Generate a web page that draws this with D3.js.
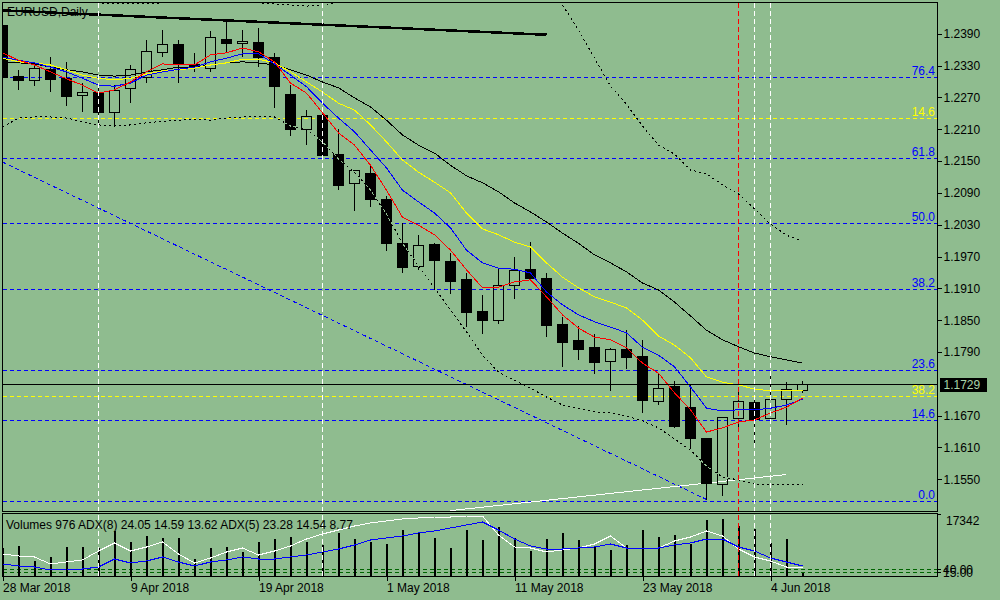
<!DOCTYPE html>
<html>
<head>
<meta charset="utf-8">
<script src="https://cdn.jsdelivr.net/npm/d3@7"></script>
<style>
html, body { margin: 0; padding: 0; background: #8fbc8f; }
svg { display: block; font-family: "Liberation Sans", Arial, sans-serif; font-size: 12px; }
</style>
</head>
<body>
<svg width="1000" height="600" shape-rendering="crispEdges"></svg>
<script>
/* EURUSD daily bars, 28 Mar - 6 Jun 2018 */
let dates = ['2018-03-28','2018-03-29','2018-03-30','2018-04-02','2018-04-03','2018-04-04','2018-04-05','2018-04-06',
  '2018-04-09','2018-04-10','2018-04-11','2018-04-12','2018-04-13','2018-04-16','2018-04-17','2018-04-18',
  '2018-04-19','2018-04-20','2018-04-23','2018-04-24','2018-04-25','2018-04-26','2018-04-27','2018-04-30',
  '2018-05-01','2018-05-02','2018-05-03','2018-05-04','2018-05-07','2018-05-08','2018-05-09','2018-05-10',
  '2018-05-11','2018-05-14','2018-05-15','2018-05-16','2018-05-17','2018-05-18','2018-05-21','2018-05-22',
  '2018-05-23','2018-05-24','2018-05-25','2018-05-28','2018-05-29','2018-05-30','2018-05-31','2018-06-01',
  '2018-06-04','2018-06-05','2018-06-06'];

let opens  = [1.2405,1.2310,1.2301,1.2322,1.2305,1.2273,1.2280,1.2242,1.2286,1.2308,1.2354,1.2369,1.2331,1.2325,1.2380,1.2372,
  1.2374,1.2346,1.2276,1.2210,1.2235,1.2163,1.2107,1.2126,1.2078,1.1995,1.1952,1.1992,1.1960,1.1926,1.1867,1.1850,
  1.1916,1.1946,1.1928,1.1841,1.1811,1.1798,1.1773,1.1794,1.1782,1.1696,1.1724,1.1686,1.1626,1.1541,1.1664,1.1694,
  1.1664,1.1700,1.1718];
let highs  = [1.2412,1.2322,1.2335,1.2346,1.2337,1.2297,1.2290,1.2293,1.2331,1.2378,1.2397,1.2378,1.2354,1.2395,1.2414,1.2397,
  1.2401,1.2354,1.2293,1.2246,1.2241,1.2210,1.2134,1.2141,1.2084,1.2033,1.2011,1.1995,1.1977,1.1939,1.1897,1.1948,
  1.1969,1.1997,1.1939,1.1856,1.1839,1.1824,1.1798,1.1832,1.1813,1.1750,1.1735,1.1730,1.1627,1.1667,1.1724,1.1709,
  1.1747,1.1733,1.1735];
let lows   = [1.2303,1.2284,1.2291,1.2280,1.2254,1.2242,1.2222,1.2214,1.2259,1.2297,1.2346,1.2297,1.2318,1.2318,1.2356,1.2346,
  1.2327,1.2250,1.2197,1.2180,1.2152,1.2095,1.2056,1.2063,1.1980,1.1939,1.1944,1.1907,1.1899,1.1837,1.1824,1.1843,
  1.1890,1.1924,1.1818,1.1762,1.1775,1.1749,1.1717,1.1758,1.1675,1.1690,1.1647,1.1607,1.1511,1.1518,1.1639,1.1619,
  1.1656,1.1652,1.1713];
let closes = [1.2308,1.2301,1.2325,1.2303,1.2271,1.2280,1.2241,1.2282,1.2323,1.2357,1.2369,1.2331,1.2329,1.2382,1.2371,1.2376,
  1.2346,1.2290,1.2210,1.2233,1.2161,1.2103,1.2133,1.2078,1.1994,1.1950,1.1990,1.1962,1.1922,1.1864,1.1850,1.1916,
  1.1943,1.1928,1.1839,1.1807,1.1794,1.1771,1.1794,1.1779,1.1698,1.1722,1.1649,1.1626,1.1543,1.1666,1.1696,1.1662,
  1.1700,1.1720,1.1729];

/* moving averages and envelope */
let maRed    = [1.2354,1.2340,1.2331,1.2318,1.2305,1.2293,1.2278,1.2284,1.2299,1.2318,1.2333,1.2331,1.2331,1.2350,1.2354,1.2363,
  1.2356,1.2337,1.2297,1.2278,1.2241,1.2203,1.2180,1.2142,1.2095,1.2044,1.2029,1.2011,1.1982,1.1945,1.1911,1.1912,
  1.1922,1.1926,1.1894,1.1860,1.1835,1.1818,1.1813,1.1798,1.1769,1.1750,1.1713,1.1681,1.1639,1.1647,1.1658,1.1662,
  1.1675,1.1686,1.1703];
let maBlue   = [1.2346,1.2340,1.2335,1.2327,1.2318,1.2306,1.2293,1.2291,1.2297,1.2312,1.2318,1.2323,1.2327,1.2337,1.2344,1.2352,
  1.2352,1.2333,1.2312,1.2290,1.2259,1.2231,1.2205,1.2171,1.2137,1.2095,1.2073,1.2052,1.2024,1.1982,1.1958,1.1948,
  1.1946,1.1939,1.1903,1.1879,1.1860,1.1847,1.1837,1.1826,1.1799,1.1784,1.1762,1.1724,1.1684,1.1679,1.1681,1.1681,
  1.1684,1.1690,1.1701];
let maYellow = [1.2344,1.2337,1.2335,1.2331,1.2322,1.2312,1.2306,1.2303,1.2306,1.2314,1.2320,1.2322,1.2325,1.2331,1.2335,1.2342,
  1.2342,1.2335,1.2318,1.2299,1.2280,1.2259,1.2246,1.2218,1.2186,1.2152,1.2129,1.2110,1.2090,1.2052,1.2022,1.2011,
  1.1997,1.1988,1.1958,1.1931,1.1911,1.1894,1.1884,1.1873,1.1850,1.1820,1.1803,1.1779,1.1743,1.1733,1.1728,1.1720,
  1.1717,1.1717,1.1718];
let maBlack  = [1.2337,1.2335,1.2333,1.2327,1.2322,1.2318,1.2312,1.2310,1.2312,1.2318,1.2322,1.2327,1.2327,1.2331,1.2335,1.2337,
  1.2335,1.2331,1.2322,1.2312,1.2299,1.2288,1.2269,1.2252,1.2227,1.2199,1.2180,1.2165,1.2142,1.2122,1.2109,1.2092,
  1.2071,1.2054,1.2035,1.2014,1.1995,1.1973,1.1958,1.1941,1.1920,1.1907,1.1884,1.1858,1.1831,1.1813,1.1800,1.1788,
  1.1781,1.1775,1.1769];
let bandUpper = [1.2469,1.2465,1.2461,1.2457,1.2454,1.2450,1.2448,1.2446,1.2446,1.2446,1.2448,1.2448,1.2450,1.2448,1.2448,1.2448,
  1.2448,1.2446,1.2444,1.2442,1.2444,1.2450,1.2461,1.2472,1.2482,1.2491,1.2501,1.2510,1.2519,1.2529,1.2538,1.2538,
  1.2533,1.2519,1.2487,1.2444,1.2397,1.2344,1.2291,1.2257,1.2216,1.2180,1.2163,1.2133,1.2126,1.2105,1.2088,1.2060,
  1.2031,1.2010,1.1999];
let bandLower = [1.2214,1.2231,1.2233,1.2233,1.2231,1.2224,1.2218,1.2216,1.2218,1.2222,1.2225,1.2227,1.2229,1.2227,1.2231,1.2233,
  1.2233,1.2233,1.2216,1.2210,1.2186,1.2154,1.2129,1.2095,1.2050,1.1995,1.1952,1.1911,1.1869,1.1828,1.1784,1.1752,
  1.1737,1.1722,1.1705,1.1690,1.1683,1.1677,1.1675,1.1669,1.1660,1.1647,1.1626,1.1605,1.1575,1.1554,1.1549,1.1541,
  1.1541,1.1541,1.1541];

/* sub window */
let volumes = [7800,8400,4200,5300,8100,8100,7800,12600,9500,11200,10600,10600,4800,7800,8100,6700,
  9500,10400,10900,9500,8700,12000,10400,9500,9000,12900,12000,10600,7800,12900,10100,13700,
  10600,7000,10400,12000,10100,8100,7300,8700,12900,10900,11500,9000,15700,16000,14000,13200,
  9200,10400,976];
let adxWhite = [22,20,19,12,14,16,25,33,25,29,34,22,13,18,24,28,21,25,30,37,42,46,50,53,55,57,58,59,59,60,60,41,
  29,28,24,26,28,32,40,28,28,28,35,39,45,40,27,19,15,9,9];
let adxBlue  = [12,10,9,6,7,7,9,17,13,15,19,14,10,14,16,19,17,17,19,21,24,27,31,36,38,40,43,45,48,51,54,46,
  37,30,27,27,28,29,32,28,28,28,31,33,37,37,29,25,18,14,10];
let adxLevels = [6.7, 4];
let subTickLabels = ['40.00', '15.00'];
let volMax = 17342;
let legend = 'Volumes 976 ADX(8) 24.05 14.59 13.62 ADX(5) 23.28 14.54 8.77';

/* price axis and objects */
let priceTicks = [1.2390,1.2330,1.2270,1.2210,1.2150,1.2090,1.2030,1.1970,1.1910,1.1850,1.1790,1.1670,1.1610,1.1550];
let lastPrice = 1.1729;
let fibLow = 1.1510, fibHigh = 1.2555;
let fibLevels = [0.0, 14.6, 23.6, 38.2, 50.0, 61.8, 76.4];
let fib2High = 1.2555, fib2Low = 1.0336;
let fib2Levels = [14.6, 38.2];
let trendBlack = [[0, 1.2434], [34, 1.2388]];
let trendBlue  = [[0, 1.2148], [44, 1.1512]];
let trendWhite = [[28, 1.1491], [49, 1.1559]];
let whiteVLines = [6, 20, 47, 48];
let redVLines = [46];

let bg = '#8fbc8f';
let svg = d3.select('svg');
let plotL = 3, plotR = 937, mainT = 3, mainB = 511, subT = 514, subB = 576;

let x = d3.scaleLinear().domain([0, dates.length - 1]).range([2.5, 2.5 + 16 * (dates.length - 1)]);
let y = d3.scaleLinear().domain([1.1550, 1.2390]).range([479.3, 33.7]);
let yVol = d3.scaleLinear().domain([0, volMax]).range([subB, subT]);
let yAdx = d3.scaleLinear().domain([0, 60]).range([subB, subT + 2]);

let defs = svg.append('defs');
defs.append('clipPath').attr('id', 'clip-main').append('rect')
  .attr('x', plotL).attr('y', mainT).attr('width', plotR - plotL).attr('height', mainB - mainT);
defs.append('clipPath').attr('id', 'clip-sub').append('rect')
  .attr('x', plotL).attr('y', subT).attr('width', plotR - plotL).attr('height', subB - subT);
defs.append('clipPath').attr('id', 'clip-all').append('rect')
  .attr('x', plotL).attr('y', mainT).attr('width', plotR - plotL).attr('height', subB - mainT);

svg.append('rect').attr('width', 1000).attr('height', 600).attr('fill', bg);

let main = svg.append('g').attr('clip-path', 'url(#clip-main)');
let sub = svg.append('g').attr('clip-path', 'url(#clip-sub)');
let all = svg.append('g').attr('clip-path', 'url(#clip-all)');

/* fibonacci levels */
function drawFib(lo, hi, levels, color, fromTop) {
  let g = main.append('g');
  levels.forEach(function(l) {
    let p = fromTop ? hi - (hi - lo) * l / 100 : lo + (hi - lo) * l / 100;
    let yy = Math.round(y(p)) + 0.5;
    g.append('line').attr('x1', plotL).attr('x2', plotR).attr('y1', yy).attr('y2', yy)
      .attr('stroke', color).attr('stroke-dasharray', '4,3');
    svg.append('text').attr('x', 935).attr('y', yy - 3).attr('text-anchor', 'end')
      .attr('fill', color).text(l.toFixed(1));
  });
}
drawFib(fibLow, fibHigh, fibLevels, '#0000ff', false);
drawFib(fib2Low, fib2High, fib2Levels, '#ffff00', true);

/* vertical lines over both windows */
function drawVLines(list, color) {
  all.append('g').selectAll('line').data(list).enter().append('line')
    .attr('x1', d => x(d)).attr('x2', d => x(d)).attr('y1', mainT).attr('y2', subB)
    .attr('stroke', color).attr('stroke-dasharray', '5,3');
}
drawVLines(whiteVLines, 'white');
drawVLines(redVLines, 'red');

/* trend lines */
function drawTrend(pts, color, width, dash) {
  let l = main.append('line')
    .attr('x1', x(pts[0][0])).attr('y1', y(pts[0][1]))
    .attr('x2', x(pts[1][0])).attr('y2', y(pts[1][1]))
    .attr('stroke', color).attr('stroke-width', width);
  if(dash)
    l.attr('stroke-dasharray', dash);
}
drawTrend(trendBlue, '#0000ff', 1, '4,3');
drawTrend(trendWhite, 'white', 1);
drawTrend(trendBlack, 'black', 2.5);

/* candles */
let bars = d3.range(dates.length).map(i => ({ i: i, o: opens[i], h: highs[i], l: lows[i], c: closes[i] }));
let cg = main.append('g');
cg.selectAll('line.up').data(bars).enter().append('line')
  .attr('x1', d => x(d.i)).attr('x2', d => x(d.i))
  .attr('y1', d => y(d.h)).attr('y2', d => y(Math.max(d.o, d.c)))
  .attr('stroke', 'black');
cg.selectAll('line.dn').data(bars).enter().append('line')
  .attr('x1', d => x(d.i)).attr('x2', d => x(d.i))
  .attr('y1', d => y(Math.min(d.o, d.c))).attr('y2', d => y(d.l))
  .attr('stroke', 'black');
cg.selectAll('rect').data(bars).enter().append('rect')
  .attr('x', d => x(d.i) - 5).attr('width', 10)
  .attr('y', d => y(Math.max(d.o, d.c)))
  .attr('height', d => Math.max(1, Math.abs(y(d.o) - y(d.c))))
  .attr('fill', d => d.c < d.o ? 'black' : 'none')
  .attr('stroke', 'black');

/* envelope: dashes with background gaps */
let line = d3.line().x((d, i) => x(i)).y(d => y(d));
[bandUpper, bandLower].forEach(function(b) {
  main.append('path').attr('d', line(b)).attr('fill', 'none').attr('stroke', bg);
  main.append('path').attr('d', line(b)).attr('fill', 'none').attr('stroke', 'black').attr('stroke-dasharray', '2,3');
});

/* moving averages */
[[maBlack, 'black'], [maYellow, '#ffff00'], [maBlue, '#0000ff'], [maRed, '#ff0000']].forEach(function(m) {
  main.append('path').attr('d', line(m[0])).attr('fill', 'none').attr('stroke', m[1]);
});

/* last price line */
let yLast = Math.round(y(lastPrice)) + 0.5;
main.append('line').attr('x1', plotL).attr('x2', plotR).attr('y1', yLast).attr('y2', yLast).attr('stroke', 'black');

/* sub window: volumes and ADX */
sub.append('g').selectAll('line').data(adxLevels).enter().append('line')
  .attr('x1', plotL).attr('x2', plotR)
  .attr('y1', d => Math.round(yAdx(d)) + 0.5).attr('y2', d => Math.round(yAdx(d)) + 0.5)
  .attr('stroke', '#006400').attr('stroke-dasharray', '4,3');
sub.append('g').selectAll('rect').data(volumes).enter().append('rect')
  .attr('x', (d, i) => x(i) - 0.5).attr('width', 2)
  .attr('y', d => yVol(d)).attr('height', d => subB - yVol(d))
  .attr('fill', 'black');
let adxLine = d3.line().x((d, i) => x(i)).y(d => yAdx(d));
sub.append('path').attr('d', adxLine(adxWhite)).attr('fill', 'none').attr('stroke', 'white');
sub.append('path').attr('d', adxLine(adxBlue)).attr('fill', 'none').attr('stroke', '#0000ff');

/* frames */
svg.append('rect').attr('x', 2.5).attr('y', 2.5).attr('width', plotR - 2).attr('height', mainB - 2)
  .attr('fill', 'none').attr('stroke', 'black');
svg.append('rect').attr('x', 2.5).attr('y', subT - 0.5).attr('width', plotR - 2).attr('height', subB - subT + 1)
  .attr('fill', 'none').attr('stroke', 'black');

/* price axis */
let axisY = svg.append('g').attr('transform', 'translate(' + (plotR + 0.5) + ',0)')
  .call(d3.axisRight(y).tickValues(priceTicks).tickFormat(d3.format('.4f')).tickSize(4).tickPadding(2));
axisY.select('.domain').remove();
axisY.selectAll('text').attr('font-size', 12).attr('font-family', '"Liberation Sans", Arial, sans-serif').attr('fill', 'black');

svg.append('rect').attr('x', 940).attr('y', yLast - 7).attr('width', 47).attr('height', 14).attr('fill', 'black');
svg.append('text').attr('x', 943.5).attr('y', yLast + 4.5).attr('fill', '#a9d4a9').text(d3.format('.4f')(lastPrice));

/* sub window scale */
svg.append('line').attr('x1', plotR + 0.5).attr('x2', plotR + 4).attr('y1', subT + 0.5).attr('y2', subT + 0.5).attr('stroke', 'black');
svg.append('text').attr('x', 946).attr('y', subT + 11).text(volMax);
adxLevels.forEach(function(v, k) {
  let yy = Math.round(yAdx(v)) + 0.5;
  svg.append('line').attr('x1', plotR + 0.5).attr('x2', plotR + 4).attr('y1', yy).attr('y2', yy).attr('stroke', 'black');
  svg.append('text').attr('x', 943).attr('y', yy + 4.5).text(subTickLabels[k]);
});

/* time axis */
let parse = d3.timeParse('%Y-%m-%d');
let fmt = d3.timeFormat('%-d %b %Y');
let tickIdx = d3.range(0, dates.length, 8);
let axisX = svg.append('g').attr('transform', 'translate(0,' + (subB + 0.5) + ')')
  .call(d3.axisBottom(x).tickValues(tickIdx).tickFormat(i => fmt(parse(dates[i]))).tickSize(4).tickPadding(3));
axisX.select('.domain').remove();
axisX.selectAll('text').attr('text-anchor', 'start').attr('font-size', 12)
  .attr('font-family', '"Liberation Sans", Arial, sans-serif').attr('fill', 'black');

/* titles */
svg.append('text').attr('x', 7).attr('y', 16).text('EURUSD,Daily');
svg.append('text').attr('x', 6).attr('y', 529).text(legend);
</script>
</body>
</html>
